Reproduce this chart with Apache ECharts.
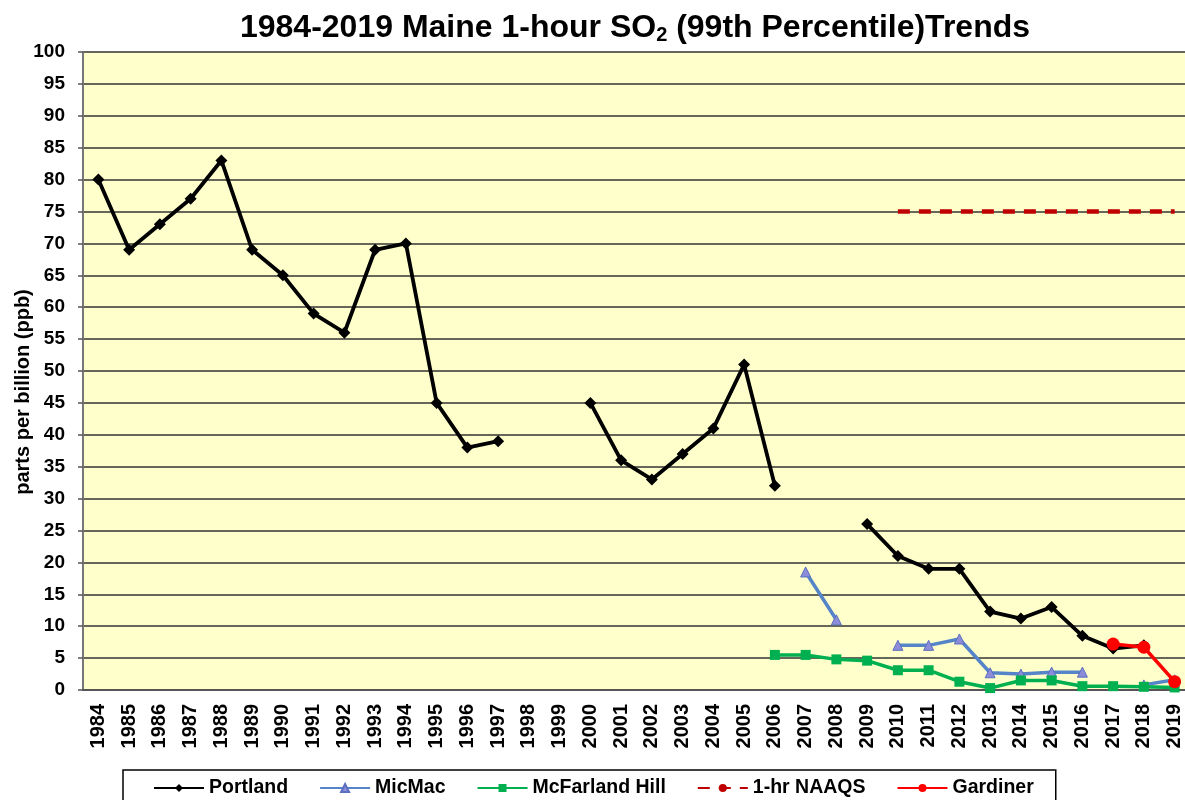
<!DOCTYPE html>
<html>
<head>
<meta charset="utf-8">
<script src="https://cdn.jsdelivr.net/npm/echarts@6/dist/echarts.min.js"></script>
<style>
  html, body { margin: 0; padding: 0; background: #fff; }
  #main { width: 1185px; height: 800px; }
</style>
</head>
<body>
<div id="main"></div>
<script>
var years = []
for (var y = 1984; y <= 2019; y++) years.push(String(y))

// values, null = no data that year
var portland = [80, 69, 73, 77, 83, 69, 65, 59, 56, 69, 70, 45, 38, 39, null, null,
  45, 36, 33, 37, 41, 51, 32, null, null, 26, 21, 19, 19, 12.3, 11.2, 13, 8.5, 6.5, 7, null]
var micmac = [null, null, null, null, null, null, null, null, null, null, null, null, null, null, null, null,
  null, null, null, null, null, null, null, 18.5, 11, null, 7, 7, 8, 2.7, 2.5, 2.8, 2.8, null, 0.8, 1.6]
var mcfarland = [null, null, null, null, null, null, null, null, null, null, null, null, null, null, null, null,
  null, null, null, null, null, null, 5.5, 5.5, 4.8, 4.6, 3.1, 3.1, 1.3, 0.3, 1.5, 1.5, 0.6, 0.6, 0.5, 0.4]
var naaqs = [null, null, null, null, null, null, null, null, null, null, null, null, null, null, null, null,
  null, null, null, null, null, null, null, null, null, null, 75, 75, 75, 75, 75, 75, 75, 75, 75, 75]
var gardiner = [null, null, null, null, null, null, null, null, null, null, null, null, null, null, null, null,
  null, null, null, null, null, null, null, null, null, null, null, null, null, null, null, null, null, 7.2, 6.7, 1.3]

var font = 'Liberation Sans, Arial, sans-serif'
var chart = echarts.init(document.getElementById('main'))

var option = {
  animation: false,
  backgroundColor: '#fff',
  title: {
    text: '1984-2019 Maine 1-hour SO{sub|2} (99th Percentile)Trends',
    left: 630,
    textAlign: 'center',
    top: 6,
    textStyle: {
      fontFamily: font,
      fontSize: 32,
      fontWeight: 'bold',
      color: '#000',
      rich: {
        sub: { fontFamily: font, fontSize: 20, fontWeight: 'bold', verticalAlign: 'bottom', padding: [14, 0, 0, 0] }
      }
    }
  },
  legend: {
    bottom: -20,
    left: 123,
    padding: [8, 22, 22, 30],
    borderColor: '#000',
    borderWidth: 1.5,
    backgroundColor: '#fff',
    itemGap: 31,
    itemWidth: 50,
    itemHeight: 10,
    textStyle: { fontFamily: font, fontSize: 19.5, fontWeight: 'bold', color: '#000' },
    data: ['Portland', 'MicMac', 'McFarland Hill', '1-hr NAAQS', 'Gardiner']
  },
  grid: {
    left: 83,
    right: -5,
    top: 52,
    bottom: 110,
    outerBoundsMode: 'none',
    show: true,
    backgroundColor: '#FFFFCC',
    borderWidth: 0
  },
  xAxis: {
    type: 'category',
    data: years,
    boundaryGap: true,
    axisLine: { lineStyle: { color: '#555', width: 2 } },
    axisTick: { length: 6, lineStyle: { color: '#555', width: 1.5 } },
    axisLabel: {
      rotate: 90,
      interval: 0,
      fontFamily: font,
      fontSize: 20,
      fontWeight: 'bold',
      color: '#000',
      margin: 14
    }
  },
  yAxis: {
    type: 'value',
    min: 0,
    max: 100,
    interval: 5,
    name: 'parts per billion (ppb)',
    nameLocation: 'middle',
    nameGap: 50,
    nameMoveOverlap: false,
    nameTextStyle: { fontFamily: font, fontSize: 20, fontWeight: 'bold', color: '#000', padding: [0, 42, 0, 0] },
    axisLine: { show: true, lineStyle: { color: '#777', width: 2 } },
    axisTick: { show: true, length: 5, lineStyle: { color: '#555', width: 1.5 } },
    axisLabel: { fontFamily: font, fontSize: 19, fontWeight: 'bold', color: '#000', margin: 18 },
    splitLine: { lineStyle: { color: '#333', width: 1.6 } }
  },
  series: [
    {
      name: 'Portland',
      type: 'line',
      data: portland,
      connectNulls: false,
      symbol: 'diamond',
      symbolSize: 12,
      lineStyle: { color: '#000', width: 3.8 },
      itemStyle: { color: '#000' }
    },
    {
      name: 'MicMac',
      type: 'line',
      data: micmac,
      symbol: 'triangle',
      symbolSize: 10,
      lineStyle: { color: '#5585C8', width: 3.5 },
      itemStyle: { color: '#8C8CD8', borderColor: '#5A6FC0', borderWidth: 1 }
    },
    {
      name: 'McFarland Hill',
      type: 'line',
      data: mcfarland,
      symbol: 'rect',
      symbolSize: 10,
      lineStyle: { color: '#00B050', width: 3.5 },
      itemStyle: { color: '#00B050' }
    },
    {
      name: '1-hr NAAQS',
      type: 'line',
      data: naaqs,
      symbol: 'none',
      lineStyle: { color: '#C00000', width: 4.5, type: [12, 9] },
      itemStyle: { color: '#C00000' }
    },
    {
      name: 'Gardiner',
      type: 'line',
      data: gardiner,
      symbol: 'circle',
      symbolSize: 13,
      lineStyle: { color: '#FF0000', width: 3.5 },
      itemStyle: { color: '#FF0000' }
    }
  ]
}

chart.setOption(option)
</script>
</body>
</html>
